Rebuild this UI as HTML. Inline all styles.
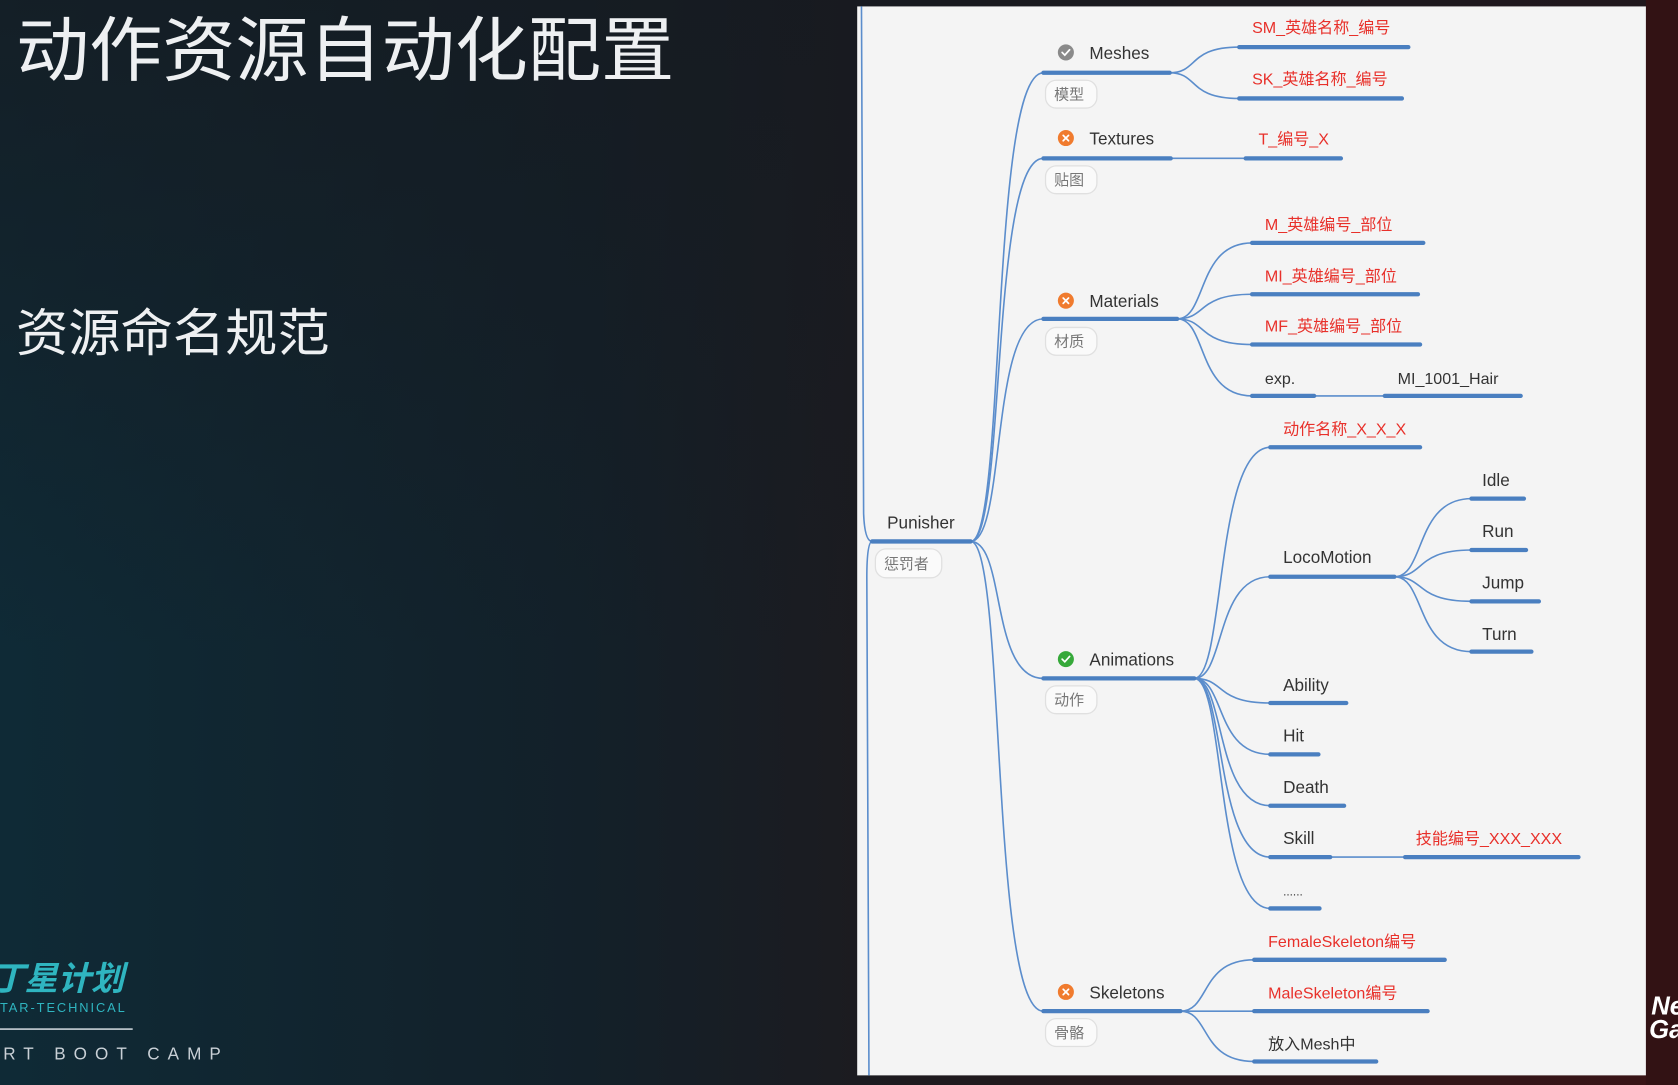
<!DOCTYPE html>
<html><head><meta charset="utf-8"><style>
html,body{margin:0;padding:0;width:1678px;height:1085px;overflow:hidden;background:#121a22}
svg{display:block}
</style></head><body>
<svg width="1678" height="1085" viewBox="0 0 1568 1014" preserveAspectRatio="none" xmlns="http://www.w3.org/2000/svg">
<defs>
<linearGradient id="bg" x1="0" y1="0" x2="1" y2="0">
<stop offset="0" stop-color="#0f2a36"/><stop offset="0.35" stop-color="#132029"/><stop offset="0.55" stop-color="#1e1a1e"/><stop offset="1" stop-color="#3a1416"/>
</linearGradient>
<linearGradient id="bg2" x1="0" y1="0" x2="0" y2="1">
<stop offset="0" stop-color="#161a20" stop-opacity="0.7"/><stop offset="0.6" stop-color="#161a20" stop-opacity="0"/>
</linearGradient>
</defs>
<rect width="1568" height="1014" fill="url(#bg)"/>
<rect width="1568" height="1014" fill="url(#bg2)"/>
<rect x="1538" y="0" width="30" height="1014" fill="#321214"/>
<g font-family="'Liberation Sans','Noto Sans CJK SC',sans-serif">
<text x="15" y="70" font-size="66" fill="#eef0f2" textLength="615" lengthAdjust="spacingAndGlyphs">动作资源自动化配置</text>
<text x="15" y="328" font-size="48" fill="#eef0f2" textLength="293" lengthAdjust="spacingAndGlyphs">资源命名规范</text>
<text x="-8" y="925" font-size="31" font-weight="bold" font-style="italic" fill="#2fb5c0">丁星计划</text>
<text x="0" y="946" font-size="12" fill="#2fb5c0" letter-spacing="1.8">TAR-TECHNICAL</text>
<rect x="0" y="961" width="124" height="1.5" fill="#c8d0d6"/>
<text x="3" y="990" font-size="16" fill="#c9d0d6" letter-spacing="7.5">RT BOOT CAMP</text>
<text x="1543" y="948" font-size="24" font-weight="bold" font-style="italic" fill="#fff">Ne</text>
<text x="1541" y="970" font-size="24" font-weight="bold" font-style="italic" fill="#fff">Ga</text>
</g>
<rect x="801" y="6" width="737" height="999" fill="#f4f4f4"/>
<g fill="none" stroke="#5b8dcc" stroke-width="1.5">
<path d="M805 6 L807 480 Q808 506 815 506"/>
<path d="M815 506 Q810 506 810 540 L812 1005"/>
<path d="M907 506 C940 506 925 68 975 68"/>
<path d="M907 506 C940 506 925 148 975 148"/>
<path d="M907 506 C940 506 925 298 975 298"/>
<path d="M907 506 C940 506 925 634 975 634"/>
<path d="M907 506 C940 506 925 945 975 945"/>
<path d="M1093 68 C1120 68 1110 44 1158 44"/>
<path d="M1093 68 C1120 68 1110 92 1158 92"/>
<path d="M1094 148 L1164 148"/>
<path d="M1100 298 C1128 298 1118 227 1170 227"/>
<path d="M1100 298 C1128 298 1118 275 1170 275"/>
<path d="M1100 298 C1128 298 1118 322 1170 322"/>
<path d="M1100 298 C1128 298 1118 370 1170 370"/>
<path d="M1228 370 L1294 370"/>
<path d="M1116 634 C1145 634 1135 418 1187 418"/>
<path d="M1116 634 C1145 634 1135 539 1187 539"/>
<path d="M1116 634 C1145 634 1135 657 1187 657"/>
<path d="M1116 634 C1145 634 1135 705 1187 705"/>
<path d="M1116 634 C1145 634 1135 753 1187 753"/>
<path d="M1116 634 C1145 634 1135 801 1187 801"/>
<path d="M1116 634 C1145 634 1135 849 1187 849"/>
<path d="M1243 801 L1313 801"/>
<path d="M1303 539 C1332 539 1322 466 1375 466"/>
<path d="M1303 539 C1332 539 1322 514 1375 514"/>
<path d="M1303 539 C1332 539 1322 562 1375 562"/>
<path d="M1303 539 C1332 539 1322 609 1375 609"/>
<path d="M1103 945 C1131 945 1121 897 1172 897"/>
<path d="M1103 945 L1172 945"/>
<path d="M1103 945 C1131 945 1121 992 1172 992"/>
</g>
<g stroke="#4a7fc0" stroke-width="4" stroke-linecap="round">
<line x1="815" y1="506" x2="907" y2="506"/>
<line x1="975" y1="68" x2="1093" y2="68"/>
<line x1="975" y1="148" x2="1094" y2="148"/>
<line x1="975" y1="298" x2="1100" y2="298"/>
<line x1="975" y1="634" x2="1116" y2="634"/>
<line x1="975" y1="945" x2="1103" y2="945"/>
<line x1="1158" y1="44" x2="1316" y2="44"/>
<line x1="1158" y1="92" x2="1310" y2="92"/>
<line x1="1164" y1="148" x2="1253" y2="148"/>
<line x1="1170" y1="227" x2="1330" y2="227"/>
<line x1="1170" y1="275" x2="1325" y2="275"/>
<line x1="1170" y1="322" x2="1327" y2="322"/>
<line x1="1170" y1="370" x2="1228" y2="370"/>
<line x1="1294" y1="370" x2="1421" y2="370"/>
<line x1="1187" y1="418" x2="1327" y2="418"/>
<line x1="1187" y1="539" x2="1303" y2="539"/>
<line x1="1187" y1="657" x2="1258" y2="657"/>
<line x1="1187" y1="705" x2="1232" y2="705"/>
<line x1="1187" y1="753" x2="1256" y2="753"/>
<line x1="1187" y1="801" x2="1243" y2="801"/>
<line x1="1313" y1="801" x2="1475" y2="801"/>
<line x1="1187" y1="849" x2="1233" y2="849"/>
<line x1="1375" y1="466" x2="1424" y2="466"/>
<line x1="1375" y1="514" x2="1426" y2="514"/>
<line x1="1375" y1="562" x2="1438" y2="562"/>
<line x1="1375" y1="609" x2="1431" y2="609"/>
<line x1="1172" y1="897" x2="1350" y2="897"/>
<line x1="1172" y1="945" x2="1334" y2="945"/>
<line x1="1172" y1="992" x2="1286" y2="992"/>
</g>
<g fill="#fafafa" stroke="#e0e0e0" stroke-width="1.2">
<rect x="818" y="513" width="62" height="27" rx="10"/>
<rect x="977" y="75" width="48" height="26" rx="10"/>
<rect x="977" y="155" width="48" height="26" rx="10"/>
<rect x="977" y="306" width="48" height="26" rx="10"/>
<rect x="977" y="641" width="48" height="26" rx="10"/>
<rect x="977" y="952" width="48" height="26" rx="10"/>
</g>
<circle cx="996" cy="49" r="7.5" fill="#8a8a8a"/>
<circle cx="996" cy="129" r="7.5" fill="#f07b2e"/>
<circle cx="996" cy="281" r="7.5" fill="#f07b2e"/>
<circle cx="996" cy="616" r="7.5" fill="#36a93a"/>
<circle cx="996" cy="927" r="7.5" fill="#f07b2e"/>
<g stroke="#fff" stroke-width="1.6" fill="none" stroke-linecap="round">
<path d="M992.5 49 L995 51.5 L999.5 46.5"/><path d="M992.5 616 L995 618.5 L999.5 613.5"/>
<path d="M993.5 126.5 L998.5 131.5 M998.5 126.5 L993.5 131.5"/>
<path d="M993.5 278.5 L998.5 283.5 M998.5 278.5 L993.5 283.5"/>
<path d="M993.5 924.5 L998.5 929.5 M998.5 924.5 L993.5 929.5"/>
</g>
<g font-family="'Liberation Sans','Noto Sans CJK SC',sans-serif" font-size="16" fill="#333">
<text x="829" y="494">Punisher</text>
<text x="826" y="532" font-size="14" fill="#777">惩罚者</text>
<text x="1018" y="55">Meshes</text>
<text x="1018" y="135">Textures</text>
<text x="1018" y="287">Materials</text>
<text x="1018" y="622">Animations</text>
<text x="1018" y="933">Skeletons</text>
<g font-size="14" fill="#777">
<text x="985" y="93">模型</text><text x="985" y="173">贴图</text><text x="985" y="324">材质</text><text x="985" y="659">动作</text><text x="985" y="970">骨骼</text>
</g>
<g fill="#e8302a" font-size="15">
<text x="1170" y="31">SM_英雄名称_编号</text>
<text x="1170" y="79">SK_英雄名称_编号</text>
<text x="1176" y="135">T_编号_X</text>
<text x="1182" y="215">M_英雄编号_部位</text>
<text x="1182" y="263">MI_英雄编号_部位</text>
<text x="1182" y="310">MF_英雄编号_部位</text>
<text x="1199" y="406">动作名称_X_X_X</text>
<text x="1323" y="789">技能编号_XXX_XXX</text>
<text x="1185" y="885">FemaleSkeleton编号</text>
<text x="1185" y="933">MaleSkeleton编号</text>
</g>
<text x="1182" y="359" font-size="15">exp.</text>
<text x="1306" y="359" font-size="15">MI_1001_Hair</text>
<text x="1199" y="526">LocoMotion</text>
<text x="1199" y="646">Ability</text>
<text x="1199" y="693">Hit</text>
<text x="1199" y="741">Death</text>
<text x="1199" y="789">Skill</text>
<text x="1199" y="837" font-size="11">......</text>
<text x="1385" y="454">Idle</text>
<text x="1385" y="502">Run</text>
<text x="1385" y="550">Jump</text>
<text x="1385" y="598">Turn</text>
<text x="1185" y="981" font-size="15">放入Mesh中</text>
</g>
</svg>
</body></html>
